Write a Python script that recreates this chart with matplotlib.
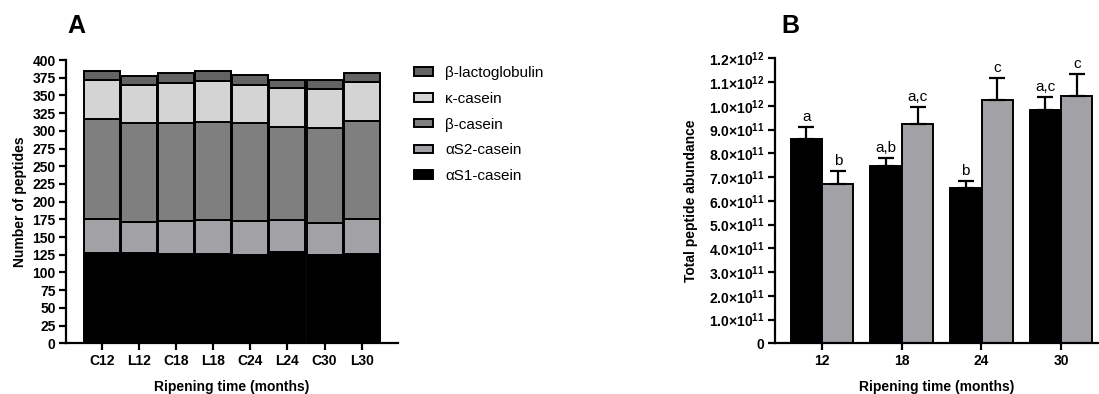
import matplotlib
matplotlib.use("Agg")
import matplotlib.pyplot as plt
import numpy as np

plt.rcParams['font.family'] = 'Liberation Sans'
plt.rcParams['mathtext.fontset'] = 'custom'
plt.rcParams['mathtext.rm'] = 'Liberation Sans'
plt.rcParams['mathtext.bf'] = 'Liberation Sans:bold'

# Panel A: number of peptides per protein
samples = ['C12', 'L12', 'C18', 'L18', 'C24', 'L24', 'C30', 'L30']
as1_casein = [128, 127, 126, 126, 125, 129, 124, 126]
as2_casein = [47, 44, 47, 48, 48, 45, 46, 49]
b_casein = [142, 140, 138, 139, 138, 131, 134, 139]
k_casein = [55, 53, 56, 58, 54, 55, 55, 55]
b_lactoglobulin = [13, 13, 14, 13, 14, 12, 13, 13]

# Panel B: total peptide abundance
months = ['12', '18', '24', '30']
abund_c = [8.60e11, 7.47e11, 6.53e11, 9.84e11]
err_c = [0.52e11, 0.32e11, 0.32e11, 0.52e11]
abund_l = [6.72e11, 9.22e11, 10.24e11, 10.43e11]
err_l = [0.55e11, 0.72e11, 0.94e11, 0.90e11]
letters_c = ['a', 'a,b', 'b', 'a,c']
letters_l = ['b', 'a,c', 'c', 'c']

fig = plt.figure(figsize=(10.99, 3.94), dpi=100)
W, H = 1099, 394

def axes_px(l, r, t, b):
    return fig.add_axes([l / W, 1 - b / H, (r - l) / W, (b - t) / H])

spine_lw = 1.6
fs = 10

def style(ax):
    for s in ['top', 'right']:
        ax.spines[s].set_visible(False)
    for s in ['left', 'bottom']:
        ax.spines[s].set_linewidth(spine_lw)
    ax.tick_params(width=spine_lw, length=5, labelsize=fs, pad=2.5)
    for lab in ax.get_xticklabels() + ax.get_yticklabels():
        lab.set_fontweight('bold')

# ---- A ----
axA = axes_px(66, 398, 60, 343.3)
x = np.arange(len(samples))
layers = [as1_casein, as2_casein, b_casein, k_casein, b_lactoglobulin]
names = ['αS1-casein', 'αS2-casein', 'β-casein', 'κ-casein', 'β-lactoglobulin']
colors = ['#000000', '#a2a2a6', '#7f7f7f', '#d4d4d4', '#636363']
bottom = np.zeros(len(samples))
handles = []
for vals, name, c in zip(layers, names, colors):
    h = axA.bar(x, vals, 0.97, bottom=bottom, color=c, edgecolor='black',
                linewidth=1.4, label=name)
    handles.append(h)
    bottom += np.array(vals)
axA.set_xlim(-0.97, 7.98)
axA.set_ylim(0, 400)
axA.set_yticks(np.arange(0, 401, 25))
axA.set_xticks(x)
axA.set_xticklabels(samples)
axA.set_ylabel('Number of peptides', fontsize=fs, fontweight='bold')
axA.set_xlabel('Ripening time (months)', fontsize=fs, fontweight='bold')
style(axA)
axA.yaxis.set_label_coords(-0.116, 0.5)
axA.xaxis.set_label_coords(0.5, -0.13)
fig.text(67 / W, 1 - 33 / H, 'A', fontsize=18, fontweight='bold')

fig.legend(handles[::-1], names[::-1], loc='upper left',
           bbox_to_anchor=(414 / W, 1 - 66 / H), frameon=False,
           fontsize=11, handlelength=1.25, handleheight=0.5,
           labelspacing=0.77, handletextpad=0.8, borderpad=0,
           borderaxespad=0)

# ---- B ----
axB = axes_px(775, 1099, 58.3, 343.3)
xb = np.arange(len(months))
w = 0.39
axB.bar(xb - 0.198, abund_c, w, color='black', edgecolor='black', linewidth=1.4)
axB.bar(xb + 0.198, abund_l, w, color='#a2a2a6', edgecolor='black', linewidth=1.4)
axB.errorbar(xb - 0.198, abund_c, yerr=[np.zeros(4), err_c], fmt='none',
             ecolor='black', elinewidth=1.6, capsize=5.5, capthick=1.6)
axB.errorbar(xb + 0.198, abund_l, yerr=[np.zeros(4), err_l], fmt='none',
             ecolor='black', elinewidth=1.6, capsize=5.5, capthick=1.6)
for i in range(4):
    axB.text(xb[i] - 0.198, abund_c[i] + err_c[i] + 0.12e11, letters_c[i],
             ha='center', va='bottom', fontsize=11)
    axB.text(xb[i] + 0.198, abund_l[i] + err_l[i] + 0.12e11, letters_l[i],
             ha='center', va='bottom', fontsize=11)
axB.set_xlim(-0.59, 3.475)
axB.set_ylim(0, 1.2e12)
yt = np.arange(0, 13) * 1e11
axB.set_yticks(yt)
ylabs = ['0']
for v in yt[1:]:
    e = int(np.floor(np.log10(v) + 1e-9))
    m = v / 10 ** e
    ylabs.append(r'$\mathbf{%.1f{\times}10^{%d}}$' % (m, e))
axB.set_yticklabels(ylabs)
axB.set_xticks(xb)
axB.set_xticklabels(months)
axB.set_ylabel('Total peptide abundance', fontsize=fs, fontweight='bold')
axB.set_xlabel('Ripening time (months)', fontsize=fs, fontweight='bold')
style(axB)
axB.yaxis.set_label_coords(-0.238, 0.5)
axB.xaxis.set_label_coords(0.5, -0.13)
fig.text(781 / W, 1 - 33 / H, 'B', fontsize=18, fontweight='bold')

fig.savefig('out.png', dpi=100)
